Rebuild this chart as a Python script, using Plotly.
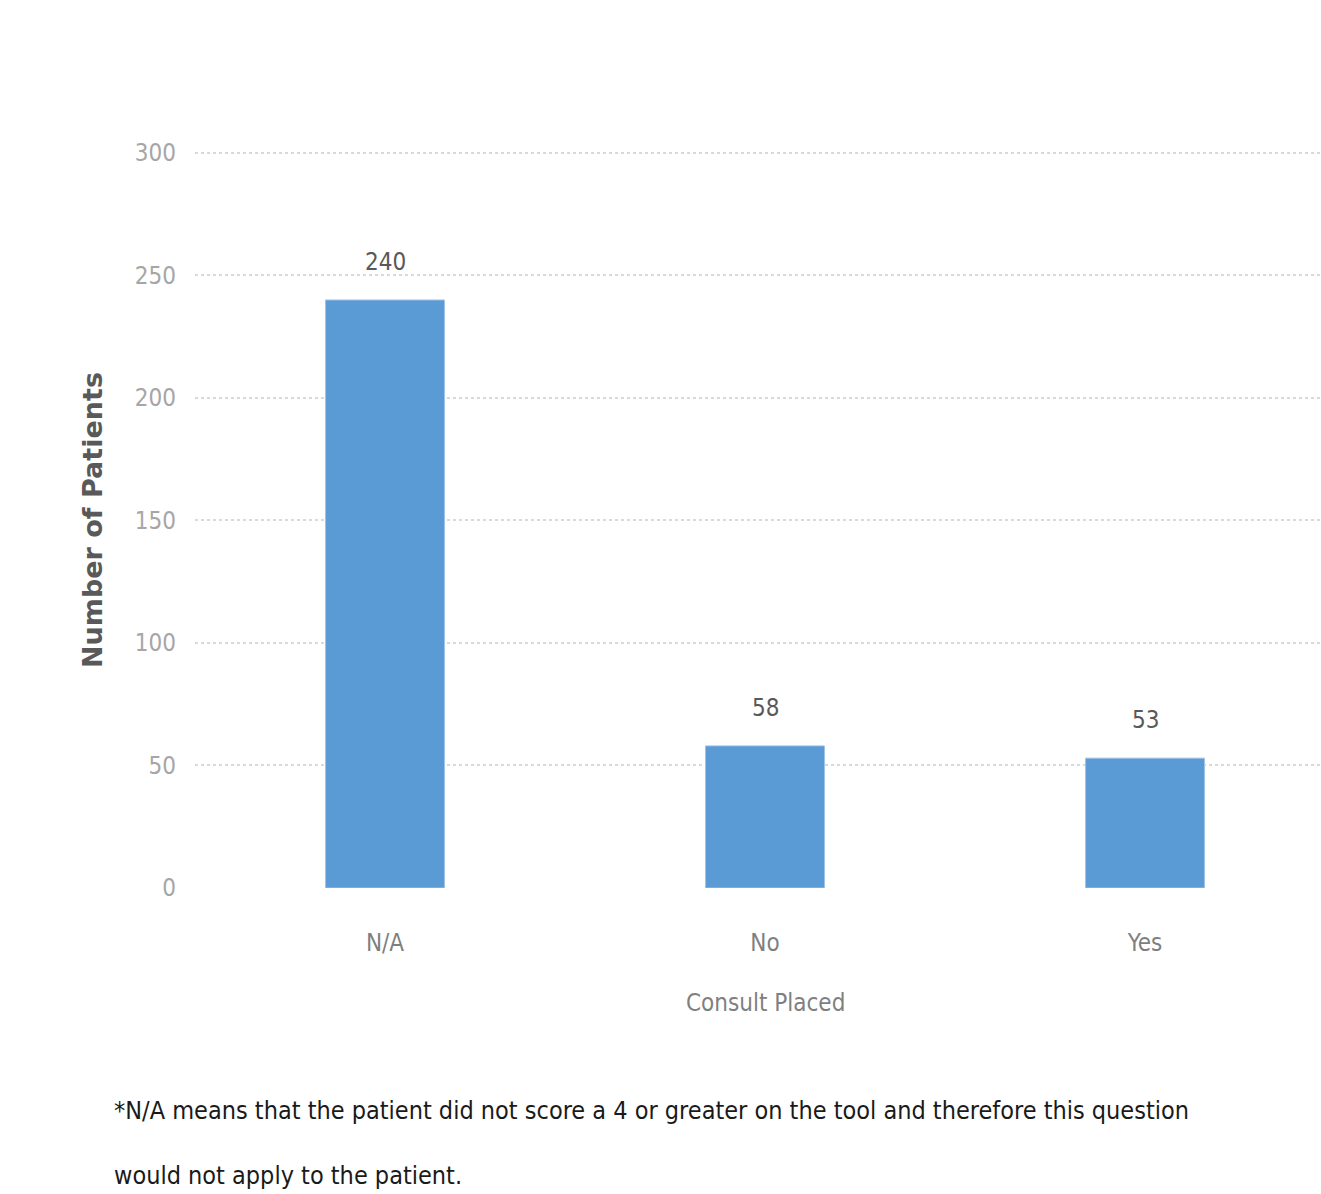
import plotly.graph_objects as go

categories = ["N/A", "No", "Yes"]
patients = [240, 58, 53]
y_ticks = [0, 50, 100, 150, 200, 250, 300]

W, H = 1321, 1194
L, R, T, B = 195, 0, 151, 306
pw = W - L - R
FONT = "DejaVu Sans Condensed, Liberation Sans Narrow, Arial Narrow, sans-serif"

fig = go.Figure()
fig.add_trace(go.Bar(
    x=list(range(len(categories))), y=patients, width=0.313,
    marker=dict(color="#5B9BD5", line=dict(color="#9DC3E6", width=1)),
    hoverinfo="x+y", showlegend=False,
))

for i, v in enumerate(patients):
    fig.add_annotation(x=i, y=v, xref="x", yref="y", text=str(v), showarrow=False,
                       yanchor="bottom", yshift=22,
                       font=dict(family=FONT, size=24, color="#595959"))

fig.update_layout(
    width=W, height=H, margin=dict(l=L, r=R, t=T, b=B),
    paper_bgcolor="white", plot_bgcolor="white",
    bargap=0.687,
    xaxis=dict(range=[-0.5, -0.5 + pw / 380.0], tickvals=list(range(len(categories))),
               ticktext=categories, showgrid=False, zeroline=False, showline=False,
               ticks="", tickfont=dict(family=FONT, size=24, color="#7f7f7f"),
               ticklabelstandoff=38),
    yaxis=dict(range=[0, 300.8], tickvals=y_ticks, showgrid=True, gridcolor="#d9d9d9",
               griddash="dot", gridwidth=2, zeroline=False, showline=False, ticks="",
               tickfont=dict(family=FONT, size=24, color="#a6a6a6"),
               ticklabelstandoff=18),
)

# y-axis title
fig.add_annotation(xref="paper", yref="paper", x=(92 - L) / pw, y=(888 - 520) / (888 - 151),
                   text="<b>Number of Patients</b>", textangle=-90, showarrow=False,
                   xanchor="center", yanchor="middle",
                   font=dict(family="DejaVu Sans", size=27, color="#595959"))
# x-axis title
fig.add_annotation(xref="paper", yref="paper", x=(765 - L) / pw, y=-(1003 - 888) / (888 - 151),
                   text="Consult Placed", showarrow=False, xanchor="center", yanchor="middle",
                   font=dict(family=FONT, size=24, color="#7f7f7f"))
# footnote
fig.add_annotation(xref="paper", yref="paper", x=(112 - L) / pw, y=-(1110 - 888) / (888 - 151),
                   text="*N/A means that the patient did not score a 4 or greater on the tool and therefore this question",
                   showarrow=False, xanchor="left", yanchor="middle",
                   font=dict(family=FONT, size=25, color="#1a1a1a"))
fig.add_annotation(xref="paper", yref="paper", x=(112 - L) / pw, y=-(1175 - 888) / (888 - 151),
                   text="would not apply to the patient.",
                   showarrow=False, xanchor="left", yanchor="middle",
                   font=dict(family=FONT, size=25, color="#1a1a1a"))

fig.write_html("out.html")
